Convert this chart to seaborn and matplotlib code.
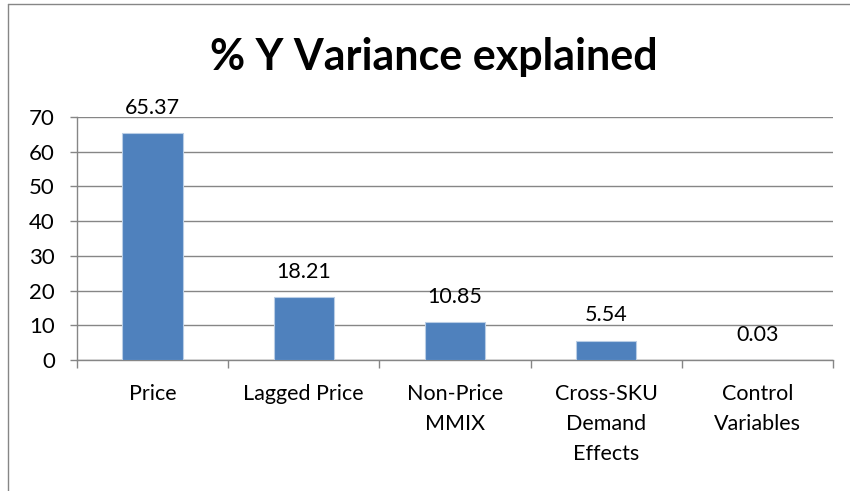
import matplotlib
matplotlib.use("Agg")
import matplotlib.pyplot as plt
import seaborn as sns
from matplotlib.lines import Line2D
from matplotlib.ticker import FixedLocator

categories = ["Price", "Lagged Price", "Non-Price\nMMIX", "Cross-SKU\nDemand\nEffects", "Control\nVariables"]
values = [65.37, 18.21, 10.85, 5.54, 0.03]
value_labels = ["65.37", "18.21", "10.85", "5.54", "0.03"]
y_ticks = [0, 10, 20, 30, 40, 50, 60, 70]

BAR_COLOR = "#4F81BD"
GRID_COLOR = "#868686"

sns.set_style("white")
plt.rcParams["font.family"] = ["Lato", "DejaVu Sans"]
plt.rcParams["text.color"] = "black"

fig = plt.figure(figsize=(8.5, 4.91), dpi=100)
ax = fig.add_axes([77 / 850, 1 - 360 / 491, (833 - 77) / 850, (360 - 117) / 491])

sns.barplot(x=categories, y=values, color=BAR_COLOR, width=0.4, saturation=1,
            edgecolor="#B9CDE5", linewidth=0.8, ax=ax, zorder=3)

ax.set_ylim(0, 70)
ax.set_xlim(-0.5, len(categories) - 0.5)
ax.set_yticks(y_ticks)
ax.yaxis.grid(True, color=GRID_COLOR, linewidth=1)
ax.set_axisbelow(True)
for side in ["top", "right"]:
    ax.spines[side].set_visible(False)
for side in ["left", "bottom"]:
    ax.spines[side].set_color(GRID_COLOR)
    ax.spines[side].set_linewidth(1)

ax.tick_params(axis="y", left=True, length=5, width=1, color=GRID_COLOR, pad=11,
               labelsize=16, labelcolor="black")
ax.tick_params(axis="x", which="major", length=0, pad=17, labelsize=15.5, labelcolor="black")
ax.xaxis.set_minor_locator(FixedLocator([i - 0.5 for i in range(len(categories) + 1)]))
ax.tick_params(axis="x", which="minor", bottom=True, length=6, width=1, color=GRID_COLOR)
for lab in ax.get_xticklabels():
    lab.set_linespacing(1.65)
    lab.set_verticalalignment("top")

ax.bar_label(ax.containers[0], labels=value_labels, padding=11, fontsize=15.5, color="black")
ax.set_xlabel("")
ax.set_ylabel("")

fig.text(0.51, 1 - 70 / 491, "% Y Variance explained", ha="center", va="baseline",
         fontsize=31, fontweight="bold", color="black")

# outer chart frame (partially cropped in the original screenshot)
fig.add_artist(Line2D([8 / 850, 8 / 850], [0, 1 - 4 / 491], transform=fig.transFigure,
                      color=GRID_COLOR, linewidth=1))
fig.add_artist(Line2D([8 / 850, 1], [1 - 4 / 491, 1 - 4 / 491], transform=fig.transFigure,
                      color=GRID_COLOR, linewidth=1))

fig.savefig("out.png", dpi=100)
